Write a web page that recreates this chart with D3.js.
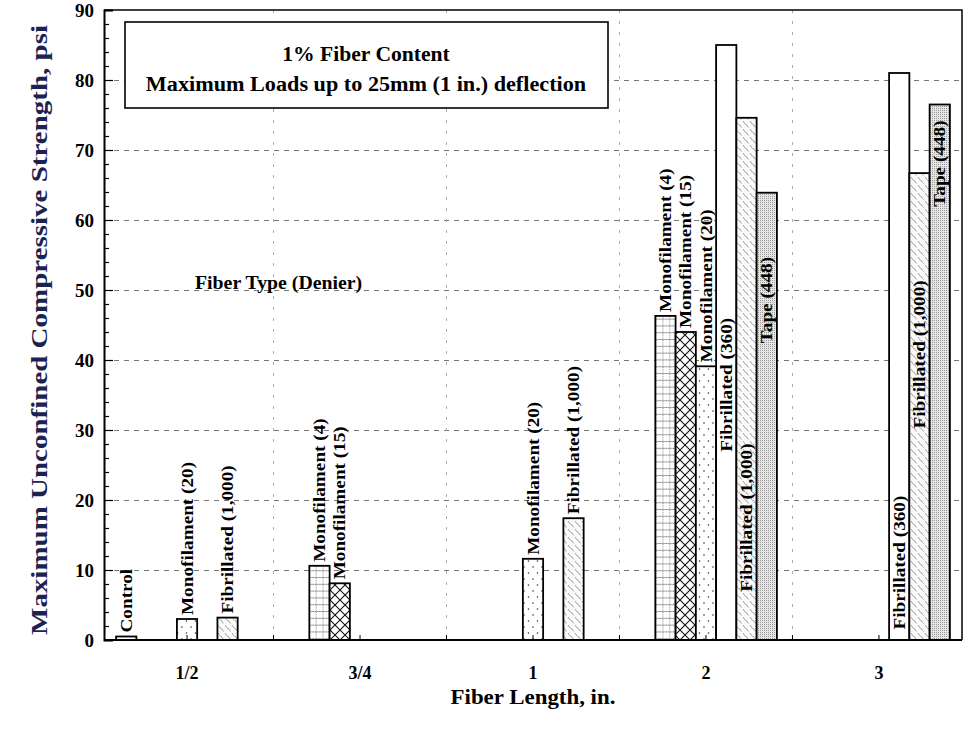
<!DOCTYPE html>
<html>
<head>
<meta charset="utf-8">
<script src="https://cdn.jsdelivr.net/npm/d3@7"></script>
<style>
  body { margin: 0; background: #fff; }
  svg text { font-family: "Liberation Serif", "Times New Roman", serif; font-weight: bold; fill: #000; }
</style>
</head>
<body>
<svg id="chart" width="965" height="738"></svg>
<script>
// fiber lengths (in.) and fiber types (denier)
const lengths = ["1/2", "3/4", "1", "2", "3"];
const fiberTypes = ["Control", "Monofilament (4)", "Monofilament (15)", "Monofilament (20)",
  "Fibrillated (360)", "Fibrillated (1,000)", "Tape (448)"];

// max unconfined compressive strength, psi (one entry per length, null = not tested)
const control = [0.5, null, null, null, null];
const mono4 = [null, 10.6, null, 46.3, null];
const mono15 = [null, 8.1, null, 44.0, null];
const mono20 = [3.0, null, 11.6, 39.1, null];
const fib360 = [null, null, null, 85.0, 81.0];
const fib1000 = [3.2, null, 17.4, 74.6, 66.7];
const tape448 = [null, null, null, 63.9, 76.5];

const yTicks = [0, 10, 20, 30, 40, 50, 60, 70, 80, 90];
const yGrid = [10, 20, 30, 40, 50, 60, 70, 80];

// labels that sit inside the bar, start value in psi
const insideLabels = [
  { length: "2", type: "Fibrillated (360)", at: 26.9 },
  { length: "2", type: "Fibrillated (1,000)", at: 6.9 },
  { length: "2", type: "Tape (448)", at: 42.4 },
  { length: "3", type: "Fibrillated (360)", at: 1.5 },
  { length: "3", type: "Fibrillated (1,000)", at: 30.2 },
  { length: "3", type: "Tape (448)", at: 61.9 }
];

const series = [control, mono4, mono15, mono20, fib360, fib1000, tape448];
const bars = [];
lengths.forEach((len, i) => {
  fiberTypes.forEach((t, j) => {
    const v = series[j][i];
    if (v != null) bars.push({ length: len, type: t, value: v, k: j });
  });
});

const pl = 104, pr = 962, pt = 10, pb = 640;
const svg = d3.select("#chart");

const x0 = d3.scaleBand().domain(lengths).range([pl, pr])
  .paddingInner(0.18).paddingOuter(0.07);
const x1 = d3.scaleBand().domain(fiberTypes).range([0, x0.bandwidth()]);
const y = d3.scaleLinear().domain([0, 90]).range([pb, pt]);

// patterns
const defs = svg.append("defs");
const pats = ["none", "grid", "lattice", "dots", "none", "hatch", "stipple"];

let p = defs.append("pattern").attr("id", "grid").attr("patternUnits", "userSpaceOnUse")
  .attr("width", 6.8).attr("height", 6.8);
p.append("rect").attr("width", 6.8).attr("height", 6.8).attr("fill", "#fff");
p.append("line").attr("x1", 3.4).attr("x2", 3.4).attr("y1", 0).attr("y2", 6.8)
  .attr("stroke", "#666").attr("stroke-width", 0.8).attr("stroke-dasharray", "1,1.2");
p.append("line").attr("x1", 0).attr("x2", 6.8).attr("y1", 6.3).attr("y2", 6.3)
  .attr("stroke", "#555").attr("stroke-width", 0.9).attr("stroke-dasharray", "1,0.8");

p = defs.append("pattern").attr("id", "lattice").attr("patternUnits", "userSpaceOnUse")
  .attr("width", 10).attr("height", 10);
p.append("rect").attr("width", 10).attr("height", 10).attr("fill", "#fff");
p.append("path").attr("d", "M0,0 L10,10 M10,0 L0,10")
  .attr("stroke", "#111").attr("stroke-width", 1.1).attr("fill", "none");

p = defs.append("pattern").attr("id", "dots").attr("patternUnits", "userSpaceOnUse")
  .attr("width", 9).attr("height", 12);
p.append("rect").attr("width", 9).attr("height", 12).attr("fill", "#fff");
p.append("circle").attr("cx", 2).attr("cy", 3).attr("r", 0.8).attr("fill", "#333");
p.append("circle").attr("cx", 6.5).attr("cy", 9).attr("r", 0.8).attr("fill", "#333");

p = defs.append("pattern").attr("id", "hatch").attr("patternUnits", "userSpaceOnUse")
  .attr("width", 7).attr("height", 8);
p.append("rect").attr("width", 7).attr("height", 8).attr("fill", "#fafafa");
p.append("path").attr("d", "M1,1 L3.5,4.5 M4,4 L6.5,7.5")
  .attr("stroke", "#888").attr("stroke-width", 0.8);

p = defs.append("pattern").attr("id", "stipple").attr("patternUnits", "userSpaceOnUse")
  .attr("width", 2).attr("height", 2);
p.append("rect").attr("width", 2).attr("height", 2).attr("fill", "#e6e6e6");
p.append("rect").attr("width", 1).attr("height", 1).attr("fill", "#999");

// grid lines
svg.append("g").attr("transform", `translate(${pl},0)`)
  .call(d3.axisLeft(y).tickValues(yGrid).tickSize(-(pr - pl)).tickFormat(""))
  .call(g => g.select(".domain").remove())
  .selectAll("line").attr("stroke", "#777").attr("stroke-dasharray", "5,5");

const step = x0.step();
const bounds = lengths.slice(1).map(l => x0(l) - step * x0.paddingInner() / 2);
svg.append("g").selectAll("line").data(bounds).join("line")
  .attr("x1", d => d).attr("x2", d => d).attr("y1", pt).attr("y2", pb)
  .attr("stroke", "#aaa").attr("stroke-dasharray", "3,8");

// bars
svg.append("g").selectAll("rect").data(bars).join("rect")
  .attr("x", d => x0(d.length) + x1(d.type))
  .attr("width", x1.bandwidth())
  .attr("y", d => y(d.value))
  .attr("height", d => y(0) - y(d.value))
  .attr("fill", d => pats[d.k] === "none" ? "#fff" : `url(#${pats[d.k]})`)
  .attr("stroke", "#000").attr("stroke-width", 1.8);

// bar labels
const stretch = (sel, k) => sel.each(function () {
  const n = this.getComputedTextLength();
  d3.select(this).attr("textLength", n * k).attr("lengthAdjust", "spacingAndGlyphs");
});

svg.append("g").selectAll("text").data(bars).join("text")
  .attr("transform", d => {
    const inside = insideLabels.find(l => l.length === d.length && l.type === d.type);
    const yy = inside ? y(inside.at) : y(d.value) - 4;
    return `translate(${x0(d.length) + x1(d.type) + x1.bandwidth() / 2},${yy}) rotate(-90)`;
  })
  .attr("dy", "0.35em")
  .style("font-size", "16px")
  .text(d => d.type)
  .call(stretch, 1.2);

// axes
svg.append("g").attr("transform", `translate(${pl},0)`)
  .call(d3.axisLeft(y).tickValues(d3.range(0, 91, 2).filter(v => v % 10)).tickSize(-5).tickFormat(""))
  .call(g => g.select(".domain").remove())
  .selectAll("line").attr("stroke", "#000").attr("stroke-width", 1.2);

svg.append("g").attr("transform", `translate(${pl},0)`)
  .call(d3.axisLeft(y).tickValues(yTicks).tickSize(-9).tickPadding(10))
  .call(g => g.select(".domain").attr("stroke-width", 2))
  .call(g => g.selectAll("line").attr("stroke-width", 1.2))
  .call(g => g.selectAll("text").style("font-size", "19px"));

svg.append("g").attr("transform", `translate(0,${pb})`)
  .call(d3.axisBottom(x0).tickSize(-5).tickPadding(26))
  .call(g => g.select(".domain").attr("d", `M${pl},0H${pr}`).attr("stroke-width", 2.2))
  .call(g => g.selectAll("text").style("font-size", "18px"));

svg.append("g").selectAll("line").data(bounds).join("line")
  .attr("x1", d => d).attr("x2", d => d).attr("y1", pb).attr("y2", pb - 5)
  .attr("stroke", "#000");

// frame top and right
svg.append("path").attr("d", `M${pl},${pt}H${pr}V${pb}`)
  .attr("fill", "none").attr("stroke", "#000").attr("stroke-width", 1.5);

// titles
svg.append("text")
  .attr("transform", `translate(39,330) rotate(-90)`)
  .attr("text-anchor", "middle").attr("dy", "0.35em")
  .style("font-size", "23px").style("fill", "#1b2350")
  .text("Maximum Unconfined Compressive Strength, psi")
  .call(stretch, 1.26);

svg.append("text")
  .attr("x", x0("1") + x0.bandwidth() / 2).attr("y", 704)
  .attr("text-anchor", "middle")
  .style("font-size", "22px")
  .text("Fiber Length, in.")
  .call(stretch, 1.04);

// note box
svg.append("rect").attr("x", 125).attr("y", 22).attr("width", 483).attr("height", 86)
  .attr("fill", "#fff").attr("stroke", "#000").attr("stroke-width", 1.6);
svg.append("text").attr("x", 366).attr("y", 61).attr("text-anchor", "middle")
  .style("font-size", "20px").text("1% Fiber Content").call(stretch, 1.08);
svg.append("text").attr("x", 366).attr("y", 91).attr("text-anchor", "middle")
  .style("font-size", "20px").text("Maximum Loads up to 25mm (1 in.) deflection").call(stretch, 1.11);

svg.append("text").attr("x", 195).attr("y", 289)
  .style("font-size", "18px").text("Fiber Type (Denier)").call(stretch, 1.1);
</script>
</body>
</html>
